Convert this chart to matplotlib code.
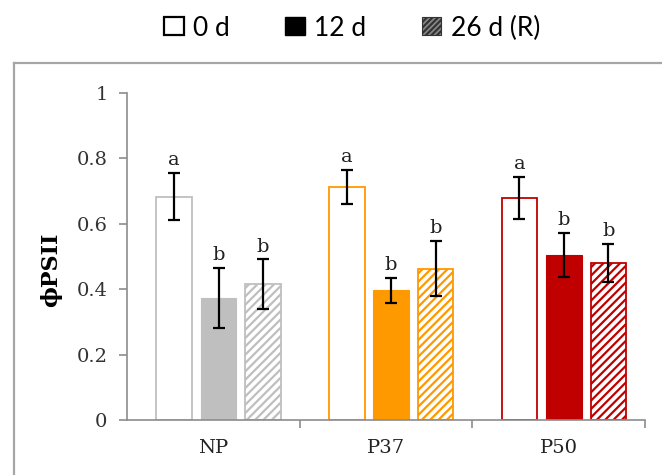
import matplotlib.pyplot as plt
import numpy as np
from matplotlib.lines import Line2D
from matplotlib.patches import Patch

plt.rcParams["hatch.linewidth"] = 1.6

# data
sites = ["NP", "P37", "P50"]
days = ["0 d", "12 d", "26 d (R)"]
means_0d = [0.683, 0.713, 0.678]
means_12d = [0.373, 0.397, 0.505]
means_26d = [0.415, 0.463, 0.481]
err_0d = [0.072, 0.053, 0.064]
err_12d = [0.093, 0.038, 0.068]
err_26d = [0.076, 0.085, 0.058]
letters_0d = ["a", "a", "a"]
letters_12d = ["b", "b", "b"]
letters_26d = ["b", "b", "b"]

site_colors = ["#bfbfbf", "#ff9900", "#c00000"]
SERIF = "DejaVu Serif"

fig = plt.figure(figsize=(6.62, 4.75), dpi=100)
ax = fig.add_axes([127 / 662, 1 - 420 / 475, (645 - 127) / 662, (420 - 93) / 475])

x = np.arange(len(sites)) + 0.03
width = 0.205
step = 0.257
series = [
    (means_0d, err_0d, letters_0d, "open"),
    (means_12d, err_12d, letters_12d, "solid"),
    (means_26d, err_26d, letters_26d, "hatch"),
]

for k, (vals, errs, lets, style) in enumerate(series):
    xpos = x + (k - 1) * step
    for i in range(len(sites)):
        col = site_colors[i]
        if style == "open":
            ax.bar(xpos[i], vals[i], width, facecolor="white", edgecolor=col, linewidth=1.3, zorder=2)
        elif style == "solid":
            ax.bar(xpos[i], vals[i], width, facecolor=col, edgecolor=col, linewidth=0.8, zorder=2)
        else:
            ax.bar(xpos[i], vals[i], width, facecolor="white", edgecolor=col, hatch="////",
                   linewidth=1.3, zorder=2)
        ax.errorbar(xpos[i], vals[i], yerr=errs[i], fmt="none", ecolor="black",
                    elinewidth=1.6, capsize=4.5, capthick=1.6, zorder=3)
        ax.text(xpos[i], vals[i] + errs[i] + 0.012, lets[i], ha="center", va="bottom",
                family=SERIF, fontsize=14, color="#222222")

ax.set_ylim(0, 1)
ax.set_xlim(-0.5, 2.5)
ax.set_yticks([0, 0.2, 0.4, 0.6, 0.8, 1.0])
ax.set_yticklabels(["0", "0.2", "0.4", "0.6", "0.8", "1"], family=SERIF, fontsize=14, color="#333333")
ax.set_xticks([0.5, 1.5, 2.5])
ax.set_xticklabels([])
ax.set_xticks(np.arange(len(sites)), minor=True)
ax.set_xticklabels(sites, minor=True, family=SERIF, fontsize=14, color="#222222")
ax.tick_params(axis="x", which="major", direction="out", length=6, color="#8c8c8c", width=1.2)
ax.tick_params(axis="x", which="minor", length=0, pad=14)
ax.tick_params(axis="y", direction="out", length=6, color="#8c8c8c", width=1.2, pad=8)
for side in ["top", "right"]:
    ax.spines[side].set_visible(False)
for side in ["left", "bottom"]:
    ax.spines[side].set_color("#8c8c8c")
    ax.spines[side].set_linewidth(1.2)

ax.set_ylabel("ϕPSII", family=SERIF, fontsize=16, fontweight="bold")
ax.yaxis.set_label_coords(-0.125, 0.46)

# outer chart frame (Excel style)
frame_col = "#a6a6a6"
fig.add_artist(Line2D([13.5 / 662, 13.5 / 662], [0, 1 - 62.5 / 475], color=frame_col, lw=1.6))
fig.add_artist(Line2D([13.5 / 662, 1], [1 - 62.5 / 475, 1 - 62.5 / 475], color=frame_col, lw=1.6))

handles = [
    Patch(facecolor="white", edgecolor="black", linewidth=1.6),
    Patch(facecolor="black", edgecolor="black"),
    Patch(facecolor="#888888", edgecolor="#333333", hatch="//////", linewidth=0.8),
]
fig.legend(handles, days, loc="center", bbox_to_anchor=(352 / 662, 1 - 28 / 475), ncol=3,
           frameon=False, prop={"family": "Lato", "size": 19}, handlelength=0.75, handleheight=0.65,
           handletextpad=0.35, columnspacing=2.1, borderpad=0)

fig.savefig("out.png", dpi=100)
